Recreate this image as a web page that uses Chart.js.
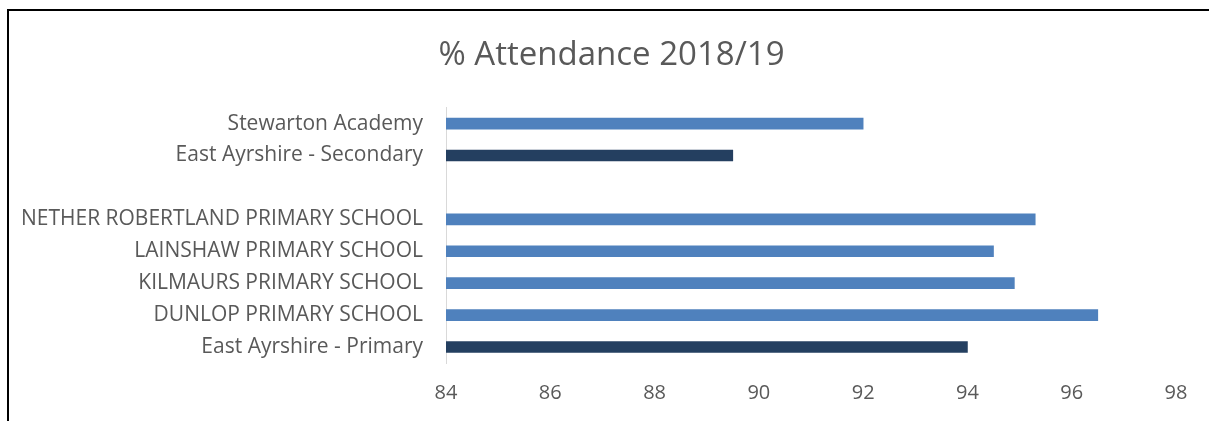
<!DOCTYPE html>
<html>
<head>
<meta charset="utf-8">
<script src="https://cdn.jsdelivr.net/npm/chart.js@4/dist/chart.umd.min.js"></script>
<style>
  html, body { margin: 0; padding: 0; background: #fff; }
  #wrap { position: relative; width: 1209px; height: 421px; overflow: hidden; }
  #frame { position: absolute; left: 7px; top: 9px; width: 1300px; height: 500px;
           border-left: 2px solid #000; border-top: 2px solid #000; pointer-events: none; }
  canvas { position: absolute; left: 0; top: 0; }
</style>
</head>
<body>
<div id="wrap">
  <canvas id="attendance" width="1209" height="421"></canvas>
  <div id="frame"></div>
</div>
<script>
// data, top row first
const schools = [
  "Stewarton Academy",
  "East Ayrshire - Secondary",
  "",
  "NETHER ROBERTLAND PRIMARY SCHOOL",
  "LAINSHAW PRIMARY SCHOOL",
  "KILMAURS PRIMARY SCHOOL",
  "DUNLOP PRIMARY SCHOOL",
  "East Ayrshire - Primary",
];
const attendance = [92.0, 89.5, null, 95.3, 94.5, 94.9, 96.5, 94.0];
const isAuthority = [false, true, false, false, false, false, false, true];

const schoolBlue = "#4F81BD";
const authorityNavy = "#243F60";
const textGrey = "#595959";

// the left padding pushes the title to the right like the original,
// but chart.js clips y labels to the scale box, so widen that box again
const unclipLabels = {
  id: "unclipLabels",
  afterLayout(chart) {
    chart.scales.y.left = 0;
  },
};

const ctx = document.getElementById("attendance").getContext("2d");

new Chart(ctx, {
  type: "bar",
  data: {
    labels: schools,
    datasets: [
      {
        label: "% Attendance",
        data: attendance,
        backgroundColor: isAuthority.map((a) => (a ? authorityNavy : schoolBlue)),
        barThickness: 11,
      },
    ],
  },
  options: {
    indexAxis: "y",
    responsive: false,
    animation: false,
    layout: {
      padding: { left: 47, right: 33, top: 36, bottom: 0 },
    },
    scales: {
      x: {
        min: 84,
        max: 98,
        ticks: {
          stepSize: 2,
          color: textGrey,
          font: { family: "'Open Sans'", size: 20 },
          padding: 18,
        },
        grid: { display: false, drawTicks: false },
        border: { display: false },
        afterFit: (scale) => {
          scale.height = 58;
        },
      },
      y: {
        ticks: {
          color: textGrey,
          font: { family: "'Open Sans'", size: 21 },
          padding: 23,
          autoSkip: false,
        },
        grid: { display: false, drawTicks: false },
        border: { display: true, color: "#D9D9D9", width: 1 },
        afterFit: (scale) => {
          scale.width = 446 - 47;
        },
      },
    },
    plugins: {
      legend: { display: false },
      tooltip: { enabled: false },
      title: {
        display: true,
        text: "% Attendance 2018/19",
        color: textGrey,
        font: { family: "'Open Sans'", size: 33, weight: "normal" },
        padding: { top: 0, bottom: 32 },
      },
    },
  },
  plugins: [unclipLabels],
});
</script>
</body>
</html>
